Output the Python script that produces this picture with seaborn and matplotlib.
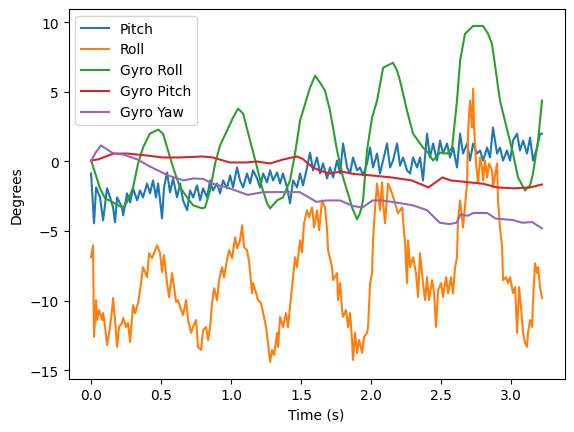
import numpy as np
import matplotlib
matplotlib.use("Agg")
import matplotlib.pyplot as plt
import seaborn as sns

## Pitch (noisy)
t_pitch = [0.000, 0.021, 0.036, 0.064, 0.086, 0.114, 0.136, 0.157, 0.171, 0.186,
           0.221, 0.229, 0.257, 0.279, 0.300, 0.329, 0.350, 0.371, 0.400, 0.421,
           0.443, 0.464, 0.479, 0.507, 0.521, 0.543, 0.564, 0.586, 0.614, 0.636,
           0.657, 0.686, 0.707, 0.729, 0.757, 0.779, 0.800, 0.829, 0.850, 0.871,
           0.900, 0.921, 0.943, 0.971, 0.993, 1.014, 1.043, 1.064, 1.086, 1.114,
           1.136, 1.157, 1.186, 1.207, 1.229, 1.257, 1.279, 1.300, 1.329, 1.350,
           1.371, 1.400, 1.421, 1.443, 1.471, 1.493, 1.514, 1.543, 1.564, 1.586,
           1.614, 1.636, 1.657, 1.686, 1.707, 1.729, 1.757, 1.779, 1.800, 1.829,
           1.850, 1.871, 1.900, 1.921, 1.943, 1.971, 1.993, 2.014, 2.043, 2.064,
           2.086, 2.114, 2.136, 2.157, 2.186, 2.207, 2.229, 2.257, 2.279, 2.300,
           2.329, 2.350, 2.371, 2.400, 2.421, 2.443, 2.471, 2.493, 2.514, 2.543,
           2.564, 2.586, 2.614, 2.636, 2.657, 2.686, 2.707, 2.729, 2.757, 2.779,
           2.800, 2.829, 2.850, 2.871, 2.900, 2.921, 2.943, 2.971, 2.993, 3.014,
           3.043, 3.064, 3.086, 3.114, 3.136, 3.157, 3.186, 3.207, 3.221]
pitch = [-0.86, -4.44, -1.86, -2.58, -4.23, -1.93, -2.58, -3.30, -4.37, -2.58,
         -3.30, -3.87, -2.29, -2.94, -1.93, -2.79, -2.08, -2.58, -1.58, -2.29,
         -1.36, -2.58, -1.58, -4.08, -1.86, -0.79, -2.22, -1.22, -2.58, -1.58,
         -2.79, -3.50, -2.08, -2.58, -1.72, -2.79, -1.93, -2.58, -1.36, -2.08,
         -1.58, -2.29, -1.36, -1.93, -1.00, -1.86, -0.43, -1.36, -1.86, -0.86,
         -1.58, -0.64, -1.22, -1.86, -0.86, -1.50, -0.64, -1.36, -0.79, -1.58,
         -0.86, -1.86, -3.00, -1.36, -1.86, -0.86, -1.72, -0.43, 0.64, -0.64,
         0.29, -0.86, -0.14, -1.22, -0.43, -1.15, 0.07, -0.86, 1.29, -0.43,
         -0.86, 0.29, -0.64, -0.43, -1.00, -0.14, 1.00, -0.43, 0.57, -0.86,
         0.07, 1.29, -0.43, 0.07, 1.29, -0.30, 0.29, -0.64, -0.86, 0.29,
         -0.43, 0.29, -1.36, 2.00, 0.29, 1.29, 0.07, 1.50, 0.57, 1.29,
         0.29, 1.00, -0.43, 2.00, 0.57, 1.29, 0.07, 1.29, 0.57, 0.79,
         0.07, 1.00, 0.29, 2.44, 0.57, 1.00, 0.07, 0.79, 0.07, 1.50,
         2.00, 0.79, 1.50, 0.57, 1.72, 0.07, 1.00, 2.00, 2.00]

## Roll (noisy)
t_roll = [0.000, 0.014, 0.021, 0.036, 0.043, 0.057, 0.079, 0.086, 0.100, 0.114,
          0.129, 0.150, 0.157, 0.171, 0.186, 0.200, 0.221, 0.229, 0.250, 0.264,
          0.279, 0.300, 0.314, 0.336, 0.357, 0.371, 0.386, 0.400, 0.414, 0.436,
          0.457, 0.471, 0.493, 0.507, 0.521, 0.543, 0.557, 0.579, 0.593, 0.607,
          0.621, 0.643, 0.657, 0.679, 0.693, 0.714, 0.729, 0.750, 0.764, 0.786,
          0.800, 0.821, 0.836, 0.850, 0.864, 0.879, 0.900, 0.914, 0.936, 0.950,
          0.971, 0.986, 1.007, 1.029, 1.043, 1.064, 1.079, 1.093, 1.114, 1.129,
          1.150, 1.157, 1.179, 1.193, 1.214, 1.229, 1.250, 1.264, 1.279, 1.293,
          1.307, 1.329, 1.336, 1.350, 1.371, 1.393, 1.407, 1.421, 1.443, 1.457,
          1.471, 1.493, 1.507, 1.521, 1.543, 1.557, 1.579, 1.593, 1.614, 1.629,
          1.650, 1.671, 1.686, 1.693, 1.721, 1.729, 1.757, 1.764, 1.779, 1.793,
          1.800, 1.821, 1.836, 1.850, 1.864, 1.871, 1.886, 1.900, 1.914, 1.936,
          1.950, 1.971, 1.979, 1.993, 2.007, 2.014, 2.029, 2.043, 2.064, 2.079,
          2.086, 2.100, 2.121, 2.150, 2.171, 2.193, 2.221, 2.243, 2.257, 2.264,
          2.279, 2.300, 2.321, 2.336, 2.350, 2.371, 2.386, 2.400, 2.414, 2.436,
          2.450, 2.464, 2.479, 2.500, 2.514, 2.536, 2.550, 2.571, 2.586, 2.600,
          2.614, 2.621, 2.636, 2.657, 2.686, 2.693, 2.707, 2.721, 2.729, 2.736,
          2.750, 2.764, 2.779, 2.793, 2.800, 2.814, 2.829, 2.843, 2.864, 2.871,
          2.900, 2.907, 2.921, 2.936, 2.943, 2.964, 2.979, 2.993, 3.014, 3.029,
          3.043, 3.057, 3.071, 3.086, 3.100, 3.114, 3.121, 3.136, 3.150, 3.157,
          3.171, 3.186, 3.193, 3.207, 3.221]
roll = [-6.88, -6.02, -12.60, -9.96, -11.39, -10.67, -11.39, -10.89, -11.89, -13.18,
        -12.32, -10.67, -9.81, -11.39, -13.32, -11.89, -11.60, -11.25, -11.89, -11.60,
        -12.97, -10.32, -10.89, -10.17, -8.74, -7.59, -7.95, -8.31, -6.59, -6.95,
        -6.38, -6.02, -6.59, -7.95, -6.73, -8.74, -9.74, -8.02, -9.03, -10.10,
        -9.96, -10.67, -11.03, -9.96, -11.39, -12.32, -11.89, -11.39, -13.32, -13.54,
        -12.11, -11.89, -12.82, -11.89, -10.17, -9.10, -9.96, -8.52, -7.59, -8.31,
        -7.09, -6.38, -6.95, -5.44, -6.23, -5.66, -4.58, -6.16, -6.38, -7.23,
        -9.46, -8.74, -9.46, -9.96, -10.17, -10.89, -11.89, -13.04, -14.40, -13.54,
        -13.90, -12.32, -13.32, -11.17, -11.89, -10.89, -11.89, -10.46, -8.31, -6.88,
        -7.59, -5.66, -6.52, -4.44, -3.51, -4.01, -3.30, -4.73, -3.51, -4.94,
        -2.79, -3.30, -4.94, -6.38, -7.59, -8.52, -8.02, -9.96, -8.74, -10.67,
        -11.17, -10.67, -11.89, -10.89, -12.82, -14.26, -12.32, -13.75, -12.82, -13.75,
        -12.61, -12.32, -11.89, -8.74, -8.02, -5.66, -3.30, -1.58, -3.51, -1.50,
        -3.01, -4.44, -1.58, -2.29, -3.01, -3.72, -3.30, -5.87, -8.74, -5.66,
        -7.59, -6.88, -8.02, -9.74, -6.59, -8.74, -9.96, -8.31, -9.96, -8.52,
        -9.46, -11.89, -9.24, -8.74, -9.74, -8.31, -9.46, -8.31, -9.46, -7.59,
        -6.88, -4.23, -2.79, -4.73, -1.58, 2.22, 4.37, 2.44, 5.23, 2.44,
        -0.14, -1.58, 0.29, -0.43, -1.36, 0.07, -1.15, -0.14, -0.64, -1.86,
        -0.14, -2.79, -4.73, -6.16, -8.52, -8.31, -8.74, -8.31, -9.46, -9.03,
        -12.32, -9.03, -10.46, -12.32, -13.04, -13.32, -12.32, -11.39, -11.89, -9.96,
        -7.31, -8.02, -7.59, -9.03, -9.81]

## Gyro Roll (smooth)
t_gyro_roll = [0.000, 0.030, 0.064, 0.100, 0.150, 0.221, 0.243, 0.279, 0.300, 0.336,
               0.371, 0.420, 0.479, 0.514, 0.564, 0.600, 0.636, 0.686, 0.729, 0.793,
               0.814, 0.850, 0.886, 0.921, 0.971, 1.014, 1.050, 1.086, 1.136, 1.186,
               1.221, 1.257, 1.279, 1.329, 1.371, 1.421, 1.457, 1.493, 1.514, 1.564,
               1.600, 1.636, 1.671, 1.707, 1.757, 1.800, 1.850, 1.864, 1.900, 1.921,
               1.943, 1.971, 2.007, 2.043, 2.086, 2.114, 2.157, 2.186, 2.207, 2.257,
               2.300, 2.371, 2.407, 2.443, 2.493, 2.543, 2.579, 2.614, 2.636, 2.671,
               2.729, 2.800, 2.836, 2.864, 2.921, 2.979, 3.014, 3.050, 3.100, 3.136,
               3.157, 3.193, 3.221]
gyro_roll = [0.07, -0.86, -1.93, -2.65, -2.90, -3.30, -3.15, -2.44, -1.86, -0.14,
             1.00, 2.00, 2.29, 2.00, 0.29, -0.86, -1.86, -2.58, -3.15, -3.37,
             -3.30, -2.08, -0.14, 1.15, 2.22, 3.15, 3.80, 3.44, 1.50, -0.43,
             -1.86, -3.00, -3.37, -2.79, -2.58, -1.36, 0.57, 2.94, 3.65, 5.30,
             6.16, 5.66, 5.09, 3.65, 0.79, -1.15, -2.79, -3.30, -4.15, -3.72,
             -2.79, 0.79, 3.15, 4.37, 6.73, 6.88, 7.09, 6.52, 5.80, 3.65,
             2.00, 1.00, 0.64, 0.07, 0.64, 0.57, 1.00, 4.37, 7.23, 9.17,
             9.74, 9.74, 9.17, 8.45, 4.37, 2.00, 0.57, -1.15, -2.08, -1.72,
             -0.86, 1.50, 4.37]

## Gyro Pitch (smooth)
t_gyro_pitch = [0.000, 0.050, 0.160, 0.260, 0.400, 0.510, 0.630, 0.800, 0.870, 0.990,
                1.110, 1.180, 1.280, 1.370, 1.470, 1.510, 1.580, 1.630, 1.700, 1.790,
                1.880, 2.000, 2.150, 2.290, 2.410, 2.510, 2.570, 2.800, 2.900, 3.020,
                3.140, 3.221]
gyro_pitch = [0.07, 0.15, 0.57, 0.57, 0.43, 0.29, 0.29, 0.36, 0.29, -0.07,
              -0.07, 0.00, -0.14, 0.14, 0.36, 0.20, -0.40, -0.64, -0.86, -0.72,
              -0.90, -1.00, -1.15, -1.36, -1.86, -1.15, -1.36, -1.60, -1.86, -1.93,
              -1.86, -1.65]

## Gyro Yaw (smooth)
t_gyro_yaw = [0.000, 0.030, 0.070, 0.110, 0.160, 0.230, 0.330, 0.420, 0.550, 0.660,
              0.730, 0.800, 0.870, 0.970, 1.050, 1.120, 1.230, 1.370, 1.490, 1.610,
              1.680, 1.780, 1.870, 1.940, 2.010, 2.080, 2.210, 2.300, 2.400, 2.490,
              2.560, 2.610, 2.640, 2.690, 2.730, 2.830, 2.890, 3.010, 3.080, 3.150,
              3.221]
gyro_yaw = [0.00, 0.60, 1.15, 0.90, 0.57, 0.50, 0.15, -0.36, -1.00, -1.36,
            -1.22, -1.25, -1.60, -1.86, -2.15, -2.40, -2.20, -2.20, -2.20, -2.90,
            -2.80, -2.80, -3.20, -3.30, -2.80, -2.80, -3.00, -3.15, -3.50, -4.40,
            -4.50, -4.40, -3.80, -3.90, -3.70, -3.70, -4.10, -4.20, -4.40, -4.35,
            -4.80]

fig, ax = plt.subplots(figsize=(6.4, 4.8), dpi=100)
sns.lineplot(x=t_pitch, y=pitch, label="Pitch", estimator=None, ax=ax)
sns.lineplot(x=t_roll, y=roll, label="Roll", estimator=None, ax=ax)
sns.lineplot(x=t_gyro_roll, y=gyro_roll, label="Gyro Roll", estimator=None, ax=ax)
sns.lineplot(x=t_gyro_pitch, y=gyro_pitch, label="Gyro Pitch", estimator=None, ax=ax)
sns.lineplot(x=t_gyro_yaw, y=gyro_yaw, label="Gyro Yaw", estimator=None, ax=ax)
ax.set_xlabel("Time (s)")
ax.set_ylabel("Degrees")
ax.legend(loc="upper left")
fig.savefig("out.png", bbox_inches="tight")
